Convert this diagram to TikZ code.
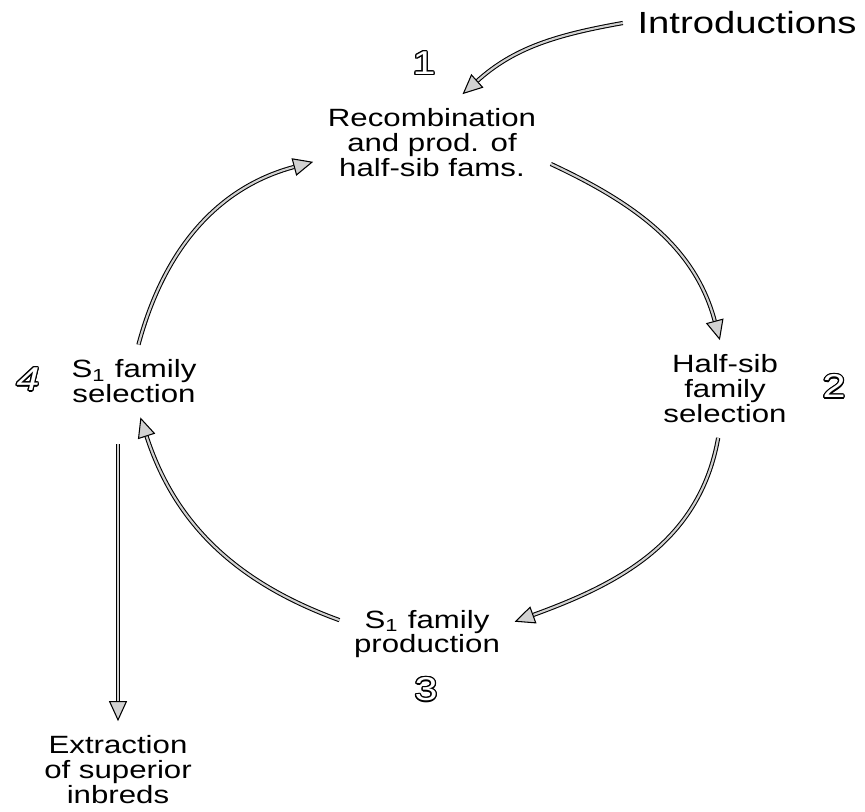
\documentclass[tikz,border=0pt]{standalone}
\usepackage{fontspec}
\setmainfont[FakeStretch=1.25]{Liberation Sans}
\usetikzlibrary{arrows.meta}
\usepackage[copies]{contour}
\contourlength{0.35pt}

\begin{document}
\begin{tikzpicture}[x=0.01cm, y=0.01cm,
    stage/.style={align=center, inner sep=0.14cm, font=\fontsize{7.1}{7.1}\selectfont},
    stepnum/.style={text=white, inner sep=0pt, font=\fontsize{9.4}{9.4}\selectfont},
    flow/.style={draw=black, line width=0.3pt, double=gray!35, double distance=0.6pt,
        -{Triangle[length=0.2cm, width=0.18cm, fill=gray!35]}}]
    \useasboundingbox (0,0) rectangle (865,-811);
    % stages of the cycle
    \node[stage, font=\fontsize{8.7}{8.7}\selectfont] (intro) at (747,-23) {Introductions};
    \node[stage] (rec) at (432,-143) {Recombination\\and prod. of\\half-sib fams.};
    \node[stage] (half) at (725,-389) {Half-sib\\family\\selection};
    \node[stage] (prod) at (427,-634) {S\textsubscript{1} family\\production};
    \node[stage] (sel) at (134,-381) {S\textsubscript{1} family\\selection};
    \node[stage] (ext) at (118,-770) {Extraction\\of superior\\inbreds};
    % step numbers
    \node[stepnum] (n1) at (424,-64) {\contour{black}{1}};
    \node[stepnum] (n2) at (834,-387) {\contour{black}{2}};
    \node[stepnum] (n3) at (426,-690) {\contour{black}{3}};
    \node[stepnum] (n4) at (28,-380) {\itshape\contour{black}{4}};
    % arrows
    \draw[flow] (intro.west) to[out=190, in=42] (rec.58);
    \draw[flow] (rec.-10) to[out=-25, in=105] (half.96);
    \draw[flow] (half.-98) to[out=-100, in=20] (prod.8);
    \draw[flow] (prod.171) to[out=160, in=-72] (sel.-80);
    \draw[flow] (sel.83) to[out=75, in=195] (rec.189);
    \draw[flow, shorten <=0.27cm] (sel.south -| ext.north) -- (ext.north);
\end{tikzpicture}
\end{document}
